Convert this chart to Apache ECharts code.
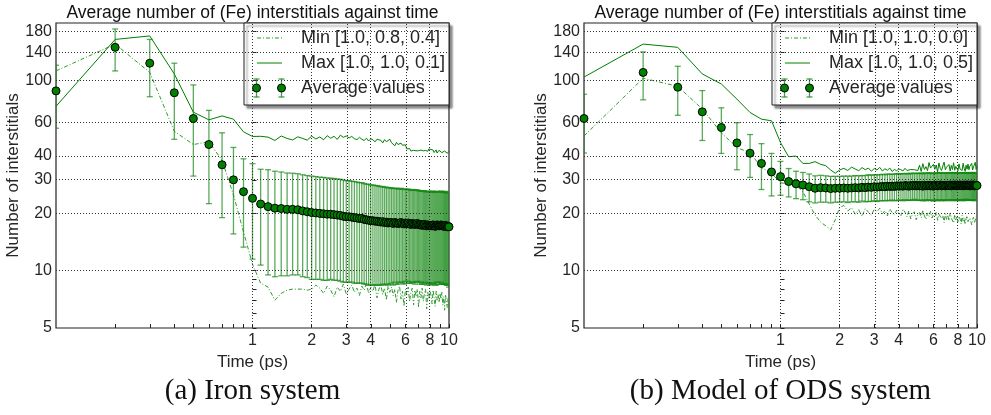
<!DOCTYPE html>
<html>
<head>
<meta charset="utf-8">
<script src="https://cdn.jsdelivr.net/npm/echarts@6/dist/echarts.min.js"></script>
<style>html,body{margin:0;padding:0;background:#fff}#c{width:991px;height:415px}</style>
</head>
<body>
<div id="c"></div>
<script>
// ---------- DATA ----------
const T = [0.1,0.2,0.3,0.4,0.5,0.6,0.7,0.8,0.9,1.0,
1.1,1.2,1.3,1.4,1.5,1.6,1.7,1.8,1.9,2.0,
2.1,2.2,2.3,2.4,2.5,2.6,2.7,2.8,2.9,3.0,
3.1,3.2,3.3,3.4,3.5,3.6,3.7,3.8,3.9,4.0,
4.1,4.2,4.3,4.4,4.5,4.6,4.7,4.8,4.9,5.0,
5.1,5.2,5.3,5.4,5.5,5.6,5.7,5.8,5.9,6.0,
6.1,6.2,6.3,6.4,6.5,6.6,6.7,6.8,6.9,7.0,
7.1,7.2,7.3,7.4,7.5,7.6,7.7,7.8,7.9,8.0,
8.1,8.2,8.3,8.4,8.5,8.6,8.7,8.8,8.9,9.0,
9.1,9.2,9.3,9.4,9.5,9.6,9.7,9.8,9.9,10.0];

// Panel (a) Iron system
const avgA = [88,149,123,86,63,46,36,30,26,24,
22.4,21.7,21.3,21.2,21.0,21.0,20.9,20.6,20.4,20.2,
20.1,20.0,19.9,19.8,19.8,19.7,19.6,19.5,19.3,19.2,
19.2,19.1,19.0,18.9,18.8,18.8,18.6,18.5,18.4,18.3,
18.3,18.2,18.2,18.1,18.0,18.1,17.9,18.0,17.8,17.9,
17.9,17.7,17.9,17.8,17.7,17.8,17.9,17.7,17.6,17.8,
17.7,17.8,17.6,17.5,17.7,17.6,17.5,17.6,17.7,17.5,
17.4,17.5,17.3,17.4,17.5,17.3,17.2,17.4,17.3,17.2,
17.3,17.2,17.4,17.3,17.1,17.2,17.4,17.3,17.2,17.3,
17.4,17.3,17.2,17.1,17.2,17.3,17.1,17.0,17.1,17.0];
const errA = [32,37,41,37,31.6,23.5,17,14.4,12.7,12.5,
11.7,12.2,12.0,11.8,11.6,11.5,11.4,11.3,11.2,11.2,
11.1,11.0,11.0,10.9,10.8,10.8,10.7,10.7,10.6,10.5,
10.5,10.4,10.4,10.3,10.2,10.2,10.1,10.0,10.0,9.9,
9.9,9.8,9.8,9.7,9.6,9.6,9.5,9.5,9.4,9.4,
9.3,9.3,9.2,9.3,9.2,9.1,9.2,9.1,9.1,9.0,
9.1,9.0,9.0,8.9,9.0,8.9,9.0,8.9,8.9,8.8,
8.9,8.8,8.8,8.9,8.8,8.7,8.8,8.8,8.7,8.8,
8.8,8.7,8.8,8.7,8.7,8.8,8.7,8.6,8.7,8.8,
8.7,8.8,8.7,8.6,8.7,8.8,8.7,8.6,8.7,8.8];
const minA = [112,155,110,54,46,47.5,38,25,16,10.8,
8.6,8.2,7.0,7.6,7.9,8.0,8.0,8.0,7.9,8.0,
8.4,8.1,7.6,8.3,7.9,7.3,8.2,7.8,8.5,7.5,
8.0,8.4,7.7,8.1,7.4,8.3,7.9,8.6,7.6,8.2,
7.8,8.5,7.2,8.0,8.4,7.5,8.1,7.0,8.3,7.7,
8.2,7.4,8.0,6.8,7.9,8.3,7.1,7.8,6.5,8.0,
7.5,8.2,6.9,7.7,8.1,6.6,7.9,7.3,8.0,6.4,
7.8,7.2,8.1,6.9,7.6,8.0,6.3,7.7,7.1,7.9,
7.4,6.7,7.9,7.2,6.5,7.8,7.0,7.5,6.8,7.6,
7.1,7.7,6.6,7.3,6.2,7.5,6.9,6.4,7.2,6.0];
const maxA = [73,164,171,108,68,62,65,62.5,53.6,50.7,
50.8,50.3,48.3,51.0,49.5,48.6,50.5,49.5,48.5,50.9,
49.2,50.4,48.7,51.2,49.6,50.8,48.9,51.5,50.2,51.0,
49.8,50.7,49.4,48.8,50.2,49.0,48.3,49.6,48.0,49.3,
48.7,47.5,49.0,47.9,48.4,46.9,48.8,47.6,48.5,49.0,
47.0,46.2,45.3,47.2,46.0,45.5,46.8,45.6,46.4,45.8,
43.6,42.8,43.8,42.5,43.4,42.9,43.7,42.6,43.2,42.7,
43.7,43.0,44.0,42.6,43.5,42.8,43.2,42.4,43.6,42.9,
43.3,42.5,43.0,41.8,42.7,43.1,41.5,42.2,42.9,41.9,
42.6,41.7,42.3,41.2,42.5,41.6,42.8,41.4,42.0,42.4];

// Panel (b) Model of ODS system
const avgB = [63,110,92,68.3,56.5,46.9,41.4,36.6,33.0,31.2,
29.4,28.6,28.2,27.6,27.1,27.3,27.2,27.0,27.1,27.1,
27.2,27.1,27.2,27.3,27.2,27.4,27.3,27.5,27.4,27.6,
27.5,27.6,27.7,27.6,27.8,27.7,27.8,27.7,27.9,27.8,
27.9,27.8,28.0,27.9,27.8,28.0,27.9,28.1,27.9,28.0,
27.9,28.0,27.8,28.1,27.9,28.0,28.1,27.9,28.0,27.8,
28.0,28.1,27.9,28.0,28.2,27.9,28.0,28.1,27.9,28.0,
28.1,28.0,28.2,27.9,28.1,28.0,28.2,28.1,27.9,28.0,
28.1,28.2,28.0,28.1,27.9,28.2,28.0,28.1,28.2,28.0,
28.1,27.9,28.2,28.0,28.1,28.2,27.9,28.0,28.1,28.0];
const errB = [21.5,31,26.5,20,15.2,13,10.5,9.9,8.3,6.3,
5.0,4.7,4.6,4.6,4.4,4.4,4.3,4.3,4.2,4.2,
4.2,4.3,4.2,4.3,4.3,4.2,4.3,4.4,4.3,4.3,
4.4,4.3,4.4,4.3,4.4,4.4,4.3,4.4,4.5,4.4,
4.4,4.5,4.4,4.5,4.4,4.5,4.5,4.4,4.5,4.5,
4.5,4.6,4.5,4.5,4.6,4.5,4.6,4.5,4.6,4.6,
4.5,4.6,4.6,4.5,4.6,4.6,4.5,4.6,4.6,4.5,
4.6,4.5,4.6,4.6,4.5,4.6,4.6,4.5,4.6,4.6,
4.5,4.6,4.6,4.5,4.6,4.5,4.6,4.6,4.5,4.6,
4.6,4.5,4.6,4.6,4.5,4.6,4.6,4.5,4.6,4.5];
const minB = [51,102.5,93,70.6,53,44.3,41.7,34.8,32.5,29,
28.5,28.0,26.0,22.4,19.6,18.0,17.2,16.4,18.5,21.5,
22.0,20.6,21.4,19.8,20.9,19.3,21.2,20.3,19.6,21.0,
20.5,21.3,19.9,20.7,19.4,21.1,20.2,19.7,20.8,20.0,
19.5,21.0,20.3,19.2,20.6,18.7,19.9,20.4,18.5,19.6,
20.2,19.0,20.8,19.4,18.6,20.1,19.3,20.5,18.9,19.7,
19.1,20.3,18.4,19.8,20.0,18.8,19.5,17.9,19.9,18.6,
19.6,18.3,20.1,18.9,19.2,17.8,19.7,18.5,19.4,18.0,
19.3,18.7,17.6,19.5,18.2,19.0,17.5,18.8,19.4,18.1,
17.7,18.9,19.3,17.4,18.6,19.1,17.8,18.4,19.2,19.6];
const maxB = [104,155,149,108,95.6,79.7,67.8,62.5,61.3,47.1,
39.7,40.0,36.6,36.6,37.4,36.2,35.6,33.8,32.5,33.8,
34.5,33.6,35.0,34.2,33.5,34.8,33.9,34.6,33.3,34.4,
33.8,34.9,33.4,34.3,33.7,34.6,33.2,34.0,33.5,34.2,
33.9,33.4,34.5,33.6,33.8,34.0,33.3,33.9,34.1,33.6,
35.8,33.2,36.5,34.0,35.2,33.5,37.0,34.6,33.8,36.2,
34.1,35.9,33.0,36.8,34.5,33.6,35.5,37.2,33.9,35.0,
34.3,36.1,33.4,35.7,34.0,36.9,33.7,35.3,34.8,33.5,
36.4,34.2,35.0,33.6,36.7,34.5,33.2,35.8,34.1,36.3,
33.9,35.4,34.7,36.6,33.8,35.1,34.4,37.1,34.0,35.6];

const yTickLabels = [5,10,20,30,40,60,100,140,180];
const yMinorTicks = [6,7,8,9];
const xTickLabels = [1,2,3,4,6,8,10];
const xMinorTicks = [0.2,0.3,0.4,0.5,0.6,0.7,0.8,0.9,5,7,9];
const yGrid = [10,20,30,40,60,100,140,180];
const xGrid = [1,2,3,4,6,8];
const yRange = [5,200];
const xRange = [0.1,10];

const titleText = 'Average number of (Fe) interstitials against time';
const yName = 'Number of interstitials';
const xName = 'Time (ps)';
const legendA = ['Min [1.0, 0.8, 0.4]', 'Max [1.0, 1.0, 0.1]', 'Average values'];
const legendB = ['Min [1.0, 1.0, 0.0]', 'Max [1.0, 1.0, 0.5]', 'Average values'];
const captions = ['(a) Iron system', '(b) Model of ODS system'];

// ---------- BUILD ----------
const lg = Math.log10;
const SANS = 'Liberation Sans';
const TXT = '#262626';
const GREEN = '#008000';
const pts = vals => T.map((t, i) => [lg(t), lg(vals[i])]);
const bars = (avg, err) => T.map((t, i) => [lg(t), lg(avg[i] - err[i]), lg(avg[i] + err[i])]);
const fmt = v => String(Math.round(Math.pow(10, v) * 100) / 100);

const grids = [
  {left: 56, top: 23, width: 393, height: 305},
  {left: 584, top: 23, width: 393, height: 305}
];

function xAxisFor(i) {
  return {
    type: 'value', gridIndex: i, min: lg(xRange[0]), max: lg(xRange[1]),
    name: xName, nameLocation: 'middle', nameGap: 15,
    nameTextStyle: {fontFamily: SANS, fontSize: 17, color: TXT},
    axisLine: {show: false},
    splitLine: {show: false},
    axisTick: {show: true, inside: true, length: 4, lineStyle: {color: '#222'},
      customValues: xTickLabels.concat(xMinorTicks).map(lg)},
    axisLabel: {customValues: xTickLabels.map(lg), formatter: fmt, margin: 5,
      fontFamily: SANS, fontSize: 16, color: TXT}
  };
}
function yAxisFor(i) {
  return {
    type: 'value', gridIndex: i, min: lg(yRange[0]), max: lg(yRange[1]),
    name: yName, nameLocation: 'middle', nameGap: 28,
    nameTextStyle: {fontFamily: SANS, fontSize: 17, color: TXT},
    axisLine: {show: false},
    splitLine: {show: false},
    axisTick: {show: true, inside: true, length: 4, lineStyle: {color: '#222'},
      customValues: yTickLabels.concat(yMinorTicks).map(lg)},
    axisLabel: {customValues: yTickLabels.map(lg), formatter: fmt, margin: 4,
      fontFamily: SANS, fontSize: 16, color: TXT}
  };
}

function errRender(params, api) {
  const x = api.value(0);
  const lo = api.coord([x, api.value(1)]);
  const hi = api.coord([x, api.value(2)]);
  const c = 'rgba(20,135,20,0.7)';
  const st = {stroke: c, lineWidth: 1.3};
  return {type: 'group', children: [
    {type: 'line', shape: {x1: lo[0], y1: lo[1], x2: hi[0], y2: hi[1]}, style: st},
    {type: 'line', shape: {x1: lo[0] - 3, y1: lo[1], x2: lo[0] + 3, y2: lo[1]}, style: st},
    {type: 'line', shape: {x1: hi[0] - 3, y1: hi[1], x2: hi[0] + 3, y2: hi[1]}, style: st}
  ]};
}

function seriesFor(i, avg, err, mn, mx) {
  return [
    {type: 'line', xAxisIndex: i, yAxisIndex: i, name: 'min' + i, data: pts(mn), symbol: 'none',
      lineStyle: {color: '#2f9a2f', width: 1, type: [4, 2, 1, 2]}, z: 3, silent: true},
    {type: 'line', xAxisIndex: i, yAxisIndex: i, name: 'max' + i, data: pts(mx), symbol: 'none',
      lineStyle: {color: GREEN, width: 1}, z: 3, silent: true,
      markLine: {silent: true, symbol: ['none', 'none'], label: {show: false},
        lineStyle: {color: '#333', width: 1, type: [1, 2]},
        data: yGrid.map(v => ({yAxis: lg(v)})).concat(xGrid.map(v => ({xAxis: lg(v)})))}},
    {type: 'custom', xAxisIndex: i, yAxisIndex: i, name: 'err' + i, data: bars(avg, err),
      renderItem: errRender, encode: {x: 0, y: [1, 2]}, clip: true, z: 4, silent: true},
    {type: 'scatter', xAxisIndex: i, yAxisIndex: i, name: 'avg' + i, data: pts(avg),
      symbol: 'circle', symbolSize: 8, clip: true,
      itemStyle: {color: GREEN, borderColor: '#000', borderWidth: 1, opacity: 1}, z: 5, silent: true}
  ];
}

function legendGraphic(x0, labels) {
  const y0 = 23;
  const ch = [
    {type: 'rect', shape: {x: x0, y: y0, width: 205, height: 82},
      style: {fill: '#fff', stroke: '#222', lineWidth: 1,
        shadowBlur: 2, shadowOffsetX: 3, shadowOffsetY: 3, shadowColor: 'rgba(0,0,0,0.45)'}},
    {type: 'line', shape: {x1: x0 + 13, y1: y0 + 15, x2: x0 + 38, y2: y0 + 15},
      style: {stroke: '#2f9a2f', lineWidth: 1, lineDash: [4, 2, 1, 2]}},
    {type: 'line', shape: {x1: x0 + 13, y1: y0 + 40, x2: x0 + 38, y2: y0 + 40},
      style: {stroke: GREEN, lineWidth: 1}}
  ];
  [x0 + 12.5, x0 + 37.5].forEach(cx => {
    const st = {stroke: 'rgba(20,135,20,0.8)', lineWidth: 1.3};
    ch.push({type: 'line', shape: {x1: cx, y1: y0 + 56, x2: cx, y2: y0 + 74}, style: st});
    ch.push({type: 'line', shape: {x1: cx - 3, y1: y0 + 56, x2: cx + 3, y2: y0 + 56}, style: st});
    ch.push({type: 'line', shape: {x1: cx - 3, y1: y0 + 74, x2: cx + 3, y2: y0 + 74}, style: st});
    ch.push({type: 'circle', shape: {cx: cx, cy: y0 + 65, r: 4}, style: {fill: GREEN, stroke: '#000', lineWidth: 1}});
  });
  labels.forEach((t, k) => {
    ch.push({type: 'text', x: x0 + 57, y: y0 + 15 + 25 * k,
      style: {text: t, fill: TXT, fontFamily: SANS, fontSize: 18, align: 'left', verticalAlign: 'middle'}});
  });
  return {type: 'group', z: 100, children: ch};
}

function textEl(x, y, t, size, family) {
  return {type: 'text', x: x, y: y, z: 100,
    style: {text: t, fill: '#111', fontFamily: family, fontSize: size, align: 'center', verticalAlign: 'middle'}};
}

const option = {
  animation: false,
  backgroundColor: '#fff',
  grid: grids.map(g => Object.assign({show: true, borderColor: '#222', borderWidth: 1.2, backgroundColor: '#fff'}, g)),
  xAxis: [xAxisFor(0), xAxisFor(1)],
  yAxis: [yAxisFor(0), yAxisFor(1)],
  series: seriesFor(0, avgA, errA, minA, maxA).concat(seriesFor(1, avgB, errB, minB, maxB)),
  graphic: [
    textEl(252.5, 13, titleText, 17.5, SANS),
    textEl(780.5, 13, titleText, 17.5, SANS),
    legendGraphic(244, legendA),
    legendGraphic(772, legendB),
    textEl(252.5, 391, captions[0], 29, 'Liberation Serif'),
    textEl(780.5, 391, captions[1], 29, 'Liberation Serif')
  ]
};

const chart = echarts.init(document.getElementById('c'), null, {renderer: 'canvas'});
chart.setOption(option);
</script>
</body>
</html>
